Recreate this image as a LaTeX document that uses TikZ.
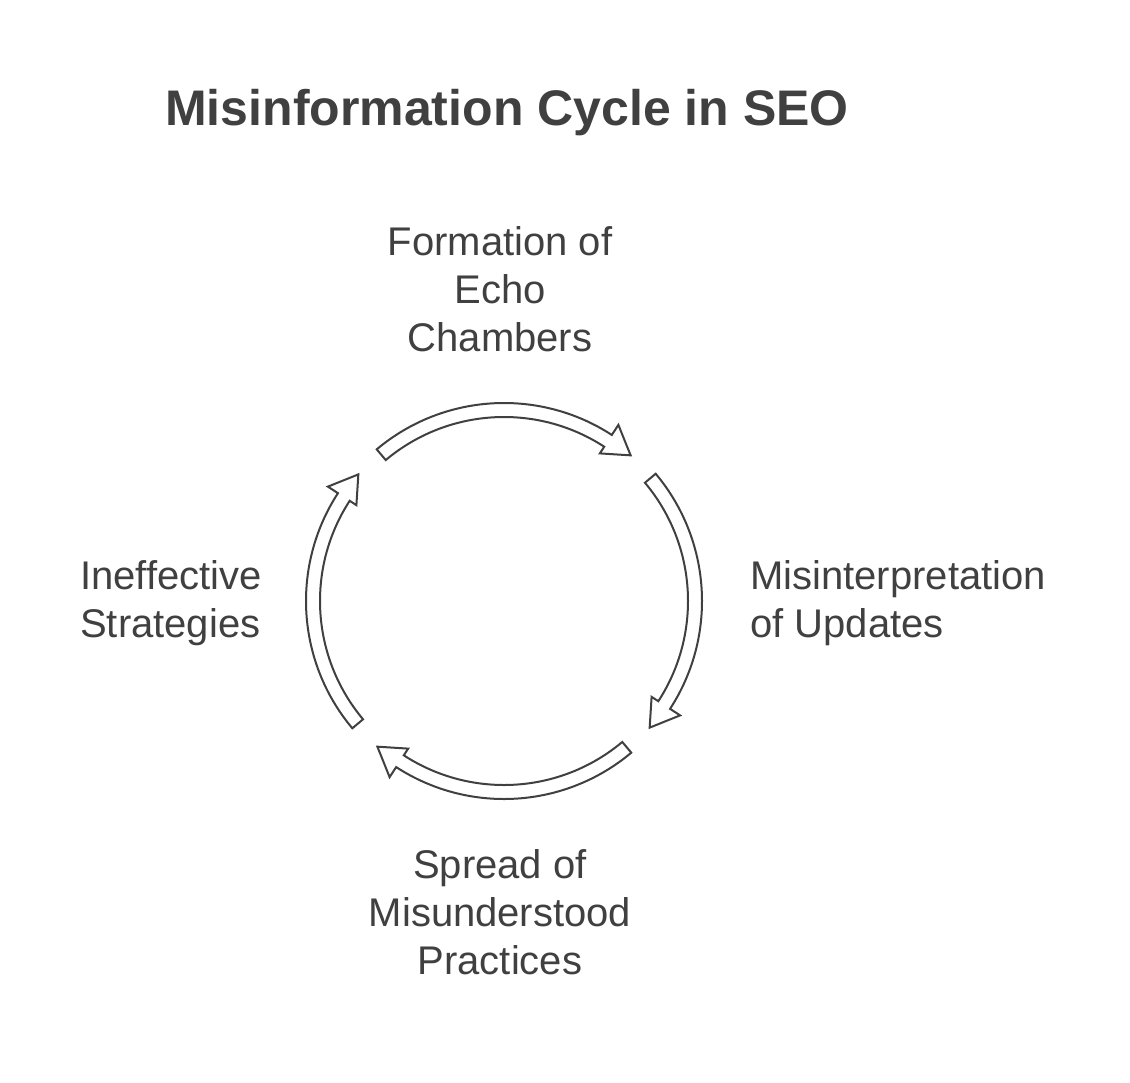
\documentclass[tikz,border=0pt]{standalone}
\usepackage{fontspec}
\setmainfont{Liberation Sans}
\usetikzlibrary{positioning}
\definecolor{inkgray}{HTML}{404040}
\tikzset{
    stagelabel/.style={text=inkgray, font=\fontsize{40}{48}\selectfont, inner sep=0pt},
    cyclearrow/.style={draw=inkgray, line width=2pt, fill=white, line join=miter}
}
\begin{document}
\begin{tikzpicture}[
                            x=1pt, y=1pt
                        ]
                        \fill[white] (0,0) rectangle (1130,-1082);
                        \useasboundingbox (0,0) rectangle (1130,-1082);
                        % Title
                        \node [anchor=west, text=inkgray, inner sep=0pt, font=\fontsize{50}{60}\selectfont\bfseries] (title) at (165,-113) {Misinformation Cycle in SEO};
                        \coordinate (cyc) at (504,-601);

                        % Stages
                        \node [stagelabel, align=center] (echo) at (500,-289) {Formation of\\Echo\\Chambers};
                        \node [stagelabel, align=left, anchor=west] (updates) at (750,-603) {Misinterpretation\\of Updates};
                        \node [stagelabel, align=center] (spread) at (500,-912) {Spread of\\Misunderstood\\Practices};
                        \node [stagelabel, align=left, anchor=west] (strategies) at (80,-603) {Ineffective\\Strategies};

                        % Arrows
                        \foreach \a in {90,0,-90,180} {
                            \draw [cyclearrow] ([shift={(\a+40:198)}]cyc) arc[start angle=\a+40, end angle=\a-33, radius=198pt]
                                -- ([shift={(\a-33:210)}]cyc) -- ([shift={(\a-41:193)}]cyc)
                                -- ([shift={(\a-33:176)}]cyc) -- ([shift={(\a-33:184)}]cyc)
                                arc[start angle=\a-33, end angle=\a+40, radius=184pt] -- cycle;
                        }
                    \end{tikzpicture}
\end{document}
